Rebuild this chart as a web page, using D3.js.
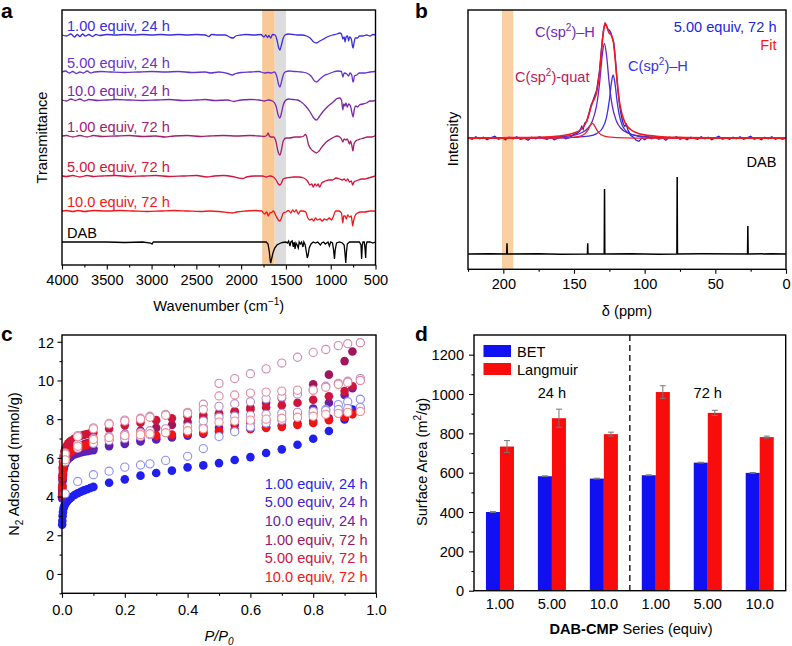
<!DOCTYPE html>
<html><head><meta charset="utf-8">
<script src="https://cdn.jsdelivr.net/npm/d3@7"></script>
<style>body{margin:0;background:#fff}svg text{font-family:"Liberation Sans",Arial,sans-serif}</style>
</head><body>
<svg id="fig" width="792" height="646"></svg>
<script>
// ================= DATA =================
// Panel a: FTIR
const irLabels = ["1.00 equiv, 24 h","5.00 equiv, 24 h","10.0 equiv, 24 h","1.00 equiv, 72 h","5.00 equiv, 72 h","10.0 equiv, 72 h","DAB"];
const irColors = ["#3a2ee0","#6634cc","#7c28a8","#a3206e","#d4143c","#f2161a","#000000"];
const irOffsets = [230, 193, 165, 129, 89, 54, 23];
const irTicks = [4000,3500,3000,2500,2000,1500,1000,500];
const irBands = [[1765,1625],[1625,1500]];
const irBandColors = ["#f9c896","#dcdcdc"];
const ir1 = [[4000,0],[3950,-1],[3900,1],[3860,-2],[3830,0.5],[3800,-1.5],[3770,1],[3740,-1],[3700,0.5],[3660,-1.5],[3620,0.5],[3580,-0.5],[3500,0.5],[3400,0],[3300,0.5],[3200,0],[3100,0.5],[3000,0],[2900,0.5],[2800,0],[2700,0.5],[2600,0],[2500,0.5],[2400,0],[2360,-1.5],[2330,0.5],[2250,0],[2180,0],[2120,-2.5],[2090,-3],[2060,-1],[2000,0],[1950,0.5],[1850,0],[1780,0.5],[1745,-2],[1725,0],[1705,-2.5],[1690,-0.5],[1670,-3],[1650,0.5],[1620,0],[1600,-5],[1580,-13],[1567,-15],[1550,-10],[1530,-3],[1510,0],[1470,1],[1420,0.5],[1380,0],[1320,0],[1270,-1],[1230,-3],[1190,-7],[1160,-8],[1120,-6],[1080,-4],[1040,-2],[980,0],[930,1],[900,2],[880,1],[865,-4],[850,-2],[840,-7],[828,-2],[812,-1],[800,-6],[790,-2],[770,-4],[755,-12],[749,-13],[740,-8],[725,-3],[700,-3],[680,-1],[640,-1],[600,0],[560,-1],[530,0.5],[500,0]];
const ir2 = [[4000,0],[3960,1],[3920,-1],[3880,0.5],[3840,-1.5],[3800,0],[3760,-1],[3720,1],[3680,-1],[3640,0],[3560,0.5],[3450,0],[3300,-0.5],[3150,0],[3000,0.5],[2850,0],[2700,0.5],[2550,-0.5],[2400,0],[2340,-1],[2250,0],[2150,-1.5],[2100,-3],[2060,-1.5],[2000,-0.5],[1900,0],[1800,0.5],[1740,-1],[1700,-0.5],[1660,-1],[1630,0],[1600,-5],[1580,-13],[1567,-15],[1550,-10],[1530,-3],[1510,0],[1460,1],[1400,0.5],[1330,0],[1270,-1],[1220,-4],[1180,-9],[1160,-10],[1120,-7],[1080,-4],[1030,-2],[970,0],[920,1],[880,0.5],[865,-5],[850,-1],[820,-2],[800,-4],[785,-1],[765,-3],[752,-10],[745,-9],[735,-4],[710,-3],[680,-1],[620,-1],[560,0],[500,0.5]];
const ir3 = [[4000,0],[3950,-1],[3900,1],[3850,-0.5],[3800,1],[3750,-1],[3700,0.5],[3600,-0.5],[3500,0],[3400,0.5],[3250,0],[3100,-0.5],[2950,0],[2800,0.5],[2650,-0.5],[2500,0],[2400,0.5],[2300,-0.5],[2150,0],[2080,-1.5],[2000,0],[1900,0.5],[1800,0],[1740,-1],[1700,0],[1650,-1],[1610,-6],[1590,-14],[1567,-18],[1550,-13],[1530,-5],[1510,-1],[1470,1],[1420,0.5],[1370,0],[1330,-2],[1280,-6],[1230,-12],[1190,-18],[1160,-20],[1130,-17],[1090,-12],[1050,-8],[1000,-4],[960,-1],[930,1.5],[900,2],[880,0],[865,-10],[855,-4],[842,-6],[830,-3],[815,-7],[800,-4],[780,-6],[760,-14],[750,-17],[738,-10],[720,-6],[700,-7],[680,-5],[640,-4],[600,-3],[560,-1],[520,-1],[500,0]];
const ir4 = [[4000,0],[3950,0.5],[3880,-1],[3800,0.5],[3720,-1],[3650,0.5],[3550,-0.5],[3400,0],[3250,0.5],[3100,-0.5],[2950,0],[2850,-1],[2750,0],[2600,0.5],[2450,-0.5],[2350,0],[2200,0.5],[2050,0],[1900,0.5],[1800,0],[1745,-0.5],[1715,0.5],[1698,3],[1685,0],[1665,-1],[1640,-1],[1610,-6],[1590,-15],[1567,-19],[1550,-14],[1530,-5],[1500,-2],[1460,-2],[1400,-1],[1340,-1],[1300,0],[1285,1.5],[1270,0],[1250,-8],[1220,-13],[1180,-16],[1160,-17],[1130,-15],[1090,-10],[1050,-6],[1000,-3],[960,-1],[930,0],[900,-1],[880,-3],[865,-6],[850,-3],[830,-4],[815,-3],[790,-8],[780,-5],[765,-9],[752,-15],[740,-8],[720,-5],[700,-4],[670,-3],[630,-2],[590,-1],[540,-1],[500,0.5]];
const ir5 = [[4000,0],[3950,-0.5],[3880,0.5],[3800,-1],[3720,0.5],[3650,-0.5],[3550,0],[3400,0.5],[3250,-0.5],[3100,0],[2950,0.5],[2800,-0.5],[2650,0],[2500,0.5],[2380,-1],[2300,0],[2200,0.5],[2100,-0.5],[2030,-2],[1980,-2.5],[1940,-1],[1850,0],[1760,0],[1720,-1],[1680,0],[1640,-1],[1610,-4],[1585,-8],[1567,-9],[1550,-7],[1530,-3],[1500,-2],[1460,-1.5],[1420,-1],[1360,-1],[1300,-2],[1260,-5],[1232,-9],[1210,-8],[1195,-11],[1175,-8],[1157,-10],[1140,-8],[1125,-11],[1100,-7],[1060,-5],[1020,-4],[980,-4],[940,-2],[900,-3],[870,-4],[850,-3],[830,-5],[810,-3],[790,-6],[770,-5],[755,-9],[740,-6],[720,-5],[690,-4],[660,-3],[620,-3],[580,-2],[540,-1],[500,0]];
const ir6 = [[4000,0],[3950,0.5],[3880,-0.5],[3820,0.5],[3750,-0.5],[3650,0.5],[3500,0],[3350,0.5],[3200,0],[3050,-0.5],[2900,0],[2750,0.5],[2600,0],[2450,-0.5],[2350,0],[2250,-0.5],[2150,-1.5],[2100,-2],[2050,-1],[1950,0],[1850,0.5],[1770,0],[1740,-3],[1715,-1],[1698,-5],[1680,-2],[1660,-1.5],[1640,0],[1610,-5],[1585,-9],[1567,-10],[1550,-7],[1530,-2],[1500,-1],[1470,0.5],[1445,-2],[1425,1],[1405,-1],[1385,1],[1362,-3],[1340,0],[1310,0],[1280,-1],[1255,-7],[1235,-9],[1210,-8],[1190,-10],[1170,-7],[1150,-9],[1120,-8],[1095,-10],[1070,-8],[1045,-9],[1015,-7],[990,-9],[965,-4],[945,0],[910,0],[880,-2],[865,-12],[855,-5],[840,-5],[825,-8],[812,-4],[790,-6],[770,-5],[755,-15],[745,-10],[725,-4],[700,-2],[670,-1],[620,-1],[560,0],[500,0]];
const irDAB = [[4000,0],[3500,0],[3300,-0.5],[3100,0],[3010,-1],[2995,-2],[2980,0],[2700,0],[2400,0],[2200,0],[1900,0],[1720,0],[1700,-2],[1685,-10],[1675,-19],[1670,-21],[1660,-17],[1645,-11],[1625,-6],[1600,-3],[1570,-1.5],[1540,-0.5],[1500,0],[1485,-1],[1470,1],[1455,-4],[1445,0],[1430,1],[1418,-5],[1408,0],[1398,-7],[1388,-1],[1375,-3],[1362,-6],[1352,0],[1340,-2],[1325,0],[1310,-5],[1300,0],[1285,-3],[1272,-10],[1262,-16],[1252,-13],[1240,-6],[1220,-2],[1195,0],[1170,-1],[1145,0],[1115,-3],[1100,-1],[1080,0],[1060,-2],[1030,0],[1015,-4],[1000,0],[980,-1],[968,-8],[958,-17],[950,-8],[935,-1],[900,0],[870,-1],[850,-3],[840,-12],[832,-21],[824,-10],[815,-2],[790,0],[720,0],[680,0],[662,-3],[655,-17],[648,-4],[640,0],[625,0],[615,-9],[610,-16],[604,-3],[595,0],[560,0],[530,-1],[500,0]];
const irTraces = [ir1, ir2, ir3, ir4, ir5, ir6, irDAB];

// Panel b: 13C NMR
const nmrTicks = [200,150,100,50,0];
const nmrBand = [201,193];
const nmrTopOffset = 131;
const nmrDabOffset = 15.3;
const nmrExp = [[225,0.5],[222,-1],[219.5,1.5],[217,-0.5],[214,1],[211.5,-1.5],[209,0.5],[206,2],[203.5,-1],[201,0.5],[198.5,-1.5],[196,1],[193,-0.5],[190.5,1.5],[188,-1],[185,0],[182.5,-2],[180,1],[177,-0.5],[174.5,1.5],[172,0],[169,-1],[166.5,1],[164,-1.5],[161,0.5],[158.5,2],[156,-0.5],[153,1],[150,4],[148,5],[146,7],[144.5,12],[143.5,9],[142.5,15],[141,17],[140,22],[139,27],[138,33],[137,36],[136,40],[134,48],[132,67],[130,98],[129,110],[128,115],[127,112],[126,109],[125,108],[124,106],[123,101],[122,97],[121,84],[120,66],[119,50],[118,36],[117,26],[116,19],[115,14],[114,12],[113,14],[112,9],[111,6],[110,3],[108,1],[106,-2],[104,-3],[102,0.5],[100,-1.5],[97.5,1],[95,-0.5],[92.5,1.5],[90,-1],[87.5,0.5],[85,-2],[82.5,1],[80,0],[77.5,1.5],[75,-1],[72.5,0.5],[70,-1.5],[67.5,1],[65,0],[62.5,-1],[60,1.5],[57.5,-0.5],[55,1],[52.5,-1.5],[50,0.5],[47.5,2],[45,-1],[42.5,0.5],[40,-1],[37.5,1],[35,-0.5],[32.5,1.5],[30,-1],[27.5,0.5],[25,2],[22.5,-1],[20,0.5],[17.5,-1.5],[15,1],[12.5,-0.5],[10,1.5],[7.5,-1],[5,0.5],[2.5,-1],[0,0.5]];
const nmrFit = [[225,0.3],[200,0.6],[175,1.1],[160,2.3],[150,5.2],[145,9],[142,14.3],[140,21],[138,31],[137,35.3],[136,38.4],[134,46],[132,65],[130,96],[129,108],[128,115],[127,113],[126,108],[125,105],[124,104],[123,101],[122,95],[121,82],[120,65],[119,50],[118,38],[116,24],[114,16],[112,11.5],[110,8.8],[105,5.1],[100,3.4],[90,1.8],[75,0.9],[50,0.4],[25,0.2],[0,0.15]];
const nmrCH1 = [[225,0.16],[175,0.7],[160,1.5],[150,3.2],[145,5.3],[140,10.3],[137,17.3],[134,32.9],[132,53.8],[130,83.3],[128.5,95],[127,83.3],[125,53.8],[123,32.9],[120,17.3],[117,10.3],[112,5.3],[107,3.2],[97,1.5],[82,0.7],[50,0.25],[0,0.09]];
const nmrCH2 = [[225,0.07],[175,0.25],[160,0.48],[150,0.89],[140,2.1],[134,4.7],[130,9.8],[127,20.9],[125,37.9],[123.5,55.9],[122.3,63.3],[121,54.8],[119.5,36.8],[118,23.5],[116,13.6],[113,7.1],[110,4.3],[105,2.2],[95,0.9],[80,0.4],[50,0.13],[0,0.05]];
const nmrQuat = [[225,0.02],[175,0.13],[160,0.35],[150,1.1],[145,2.4],[142,4.9],[140,8.7],[138.5,12.7],[137,15],[135.5,12.7],[134,8.7],[132,4.9],[129,2.4],[124,1.1],[114,0.35],[99,0.13],[50,0.02],[0,0.01]];
const nmrDAB = [[225,0],[210,0.3],[197.6,0],[197.4,10.7],[197.2,0],[175,0.3],[160,-0.2],[140.5,0],[140.3,10.7],[140.1,0],[128.6,0],[128.4,65],[128.2,0],[110,0.3],[90,-0.2],[77.2,0],[77,77],[76.8,0],[60,0.2],[27.2,0],[27,28],[26.8,0],[10,0.2],[0,0]];

// Panel c: N2 isotherms
const isoLabels = ["1.00 equiv, 24 h","5.00 equiv, 24 h","10.0 equiv, 24 h","1.00 equiv, 72 h","5.00 equiv, 72 h","10.0 equiv, 72 h"];
const isoColors = ["#1f1ff0","#4a22cc","#6a1ea8","#a0165c","#d0143a","#f21414"];
const adsP = [0.0005,0.001,0.002,0.003,0.005,0.007,0.01,0.015,0.02,0.025,0.03,0.04,0.05,0.06,0.07,0.08,0.09,0.1,0.15,0.2,0.25,0.3,0.35,0.4,0.45,0.5,0.55,0.6,0.65,0.7,0.75,0.8,0.85,0.9,0.925,0.95];
const desP = [0.95,0.91,0.88,0.84,0.8,0.75,0.7,0.65,0.6,0.55,0.5,0.45,0.4,0.33,0.28,0.25,0.2,0.15,0.1,0.05,0.01];
const ads1 = [2.55,2.75,3.0,3.2,3.4,3.5,3.6,3.72,3.82,3.9,3.97,4.08,4.17,4.25,4.32,4.38,4.44,4.5,4.71,4.89,5.08,5.22,5.34,5.51,5.61,5.73,5.89,6.04,6.25,6.44,6.68,6.99,7.39,7.98,8.5,9.03];
const ads2 = [3.9,4.3,4.8,5.1,5.4,5.55,5.7,5.85,5.95,6.02,6.08,6.17,6.23,6.28,6.32,6.35,6.38,6.4,6.6,6.72,6.85,6.95,7.05,7.15,7.25,7.35,7.42,7.5,7.58,7.68,7.78,7.9,8.05,8.25,8.4,8.6];
const ads3 = [4.0,4.4,4.9,5.2,5.5,5.65,5.8,5.95,6.05,6.12,6.18,6.27,6.33,6.38,6.42,6.45,6.48,6.5,6.68,6.8,6.92,7.02,7.12,7.25,7.4,7.55,7.7,7.82,7.95,8.12,8.32,8.55,8.85,9.25,9.6,10.1];
const ads4 = [4.2,4.6,5.1,5.4,5.7,5.85,6.0,6.15,6.25,6.33,6.4,6.5,6.58,6.65,6.7,6.75,6.8,6.85,7.1,7.25,7.4,7.55,7.7,7.85,8.05,8.22,8.4,8.6,8.85,9.08,9.36,9.8,10.3,11.0,11.5,11.95];
const ads5 = [4.5,5.0,5.5,5.8,6.1,6.3,6.45,6.62,6.75,6.83,6.9,7.0,7.08,7.14,7.19,7.23,7.27,7.3,7.5,7.68,7.82,7.95,8.05,8.15,8.22,8.3,8.4,8.5,8.6,8.72,8.85,9.0,9.18,9.45,9.7,10.0];
const ads6 = [4.1,4.5,5.0,5.3,5.6,5.8,5.95,6.1,6.2,6.28,6.34,6.44,6.52,6.58,6.63,6.68,6.72,6.76,6.95,7.05,7.1,7.15,7.2,7.25,7.3,7.4,7.45,7.5,7.55,7.6,7.7,7.8,7.95,8.1,8.25,8.4];
const des1 = [9.03,8.9,8.75,8.5,8.3,8.1,7.95,7.8,7.6,7.35,7.1,6.48,6.08,5.87,5.69,5.63,5.52,5.31,5.13,4.78,4.15];
const des2 = [8.6,8.55,8.5,8.45,8.4,8.35,8.3,8.25,8.2,8.15,8.1,7.6,7.4,7.3,7.2,7.1,7.0,6.9,6.75,6.5,5.8];
const des3 = [10.1,9.96,9.85,9.7,9.5,9.3,9.15,9.05,8.9,8.8,8.66,7.9,7.6,7.5,7.4,7.3,7.2,7.1,7.0,6.7,6.0];
const des4 = [11.95,11.9,11.8,11.6,11.45,11.2,10.9,10.6,10.35,10.1,9.85,8.77,8.35,8.25,8.15,8.05,7.95,7.78,7.55,7.15,6.25];
const des5 = [10.0,9.9,9.8,9.65,9.5,9.5,9.45,9.4,9.35,9.25,9.2,8.5,8.3,8.2,8.1,8.0,7.9,7.75,7.5,7.1,6.2];
const des6 = [8.4,8.35,8.3,8.25,8.15,8.1,8.05,8.0,7.95,7.9,7.85,7.5,7.4,7.3,7.25,7.2,7.15,7.05,6.95,6.6,5.9];
const adsAll = [ads1,ads2,ads3,ads4,ads5,ads6];
const desAll = [des1,des2,des3,des4,des5,des6];
const isoXTicks = [0,0.2,0.4,0.6,0.8,1.0];
const isoYTicks = [0,2,4,6,8,10,12];

// Panel d: surface areas
const saCats = ["1.00","5.00","10.0","1.00","5.00","10.0"];
const saSeries = ["BET","Langmuir"];
const saColors = ["#1010f2","#f80c0c"];
const betVals = [400,582,570,587,651,599];
const betErr = [2,2,2,2,2,2];
const langVals = [733,877,796,1010,904,781];
const langErr = [30,46,10,32,13,5];
const saTimes = ["24 h","72 h"];
const saYTicks = [0,200,400,600,800,1000,1200];

// ================= DRAW =================
const svg = d3.select("#fig");
const FS = 14.6;

function box(g,x0,y0,x1,y1){
  g.append("rect").attr("x",x0).attr("y",y0).attr("width",x1-x0).attr("height",y1-y0)
   .attr("fill","none").attr("stroke","#000").attr("stroke-width",1.4);
}
function styleAxis(g, labelY, horiz){
  g.select(".domain").remove();
  g.selectAll("line").attr("stroke","#000").attr("stroke-width",1.1);
  g.selectAll("text").attr("font-size",FS).attr("fill","#000")
   .attr("font-family",'"Liberation Sans",Arial,sans-serif');
  if(horiz) g.selectAll("text").attr("y",labelY).attr("dy",null);
  else g.selectAll("text").attr("x",labelY).attr("dy","0.36em");
}
function letter(x,y,t){
  svg.append("text").attr("x",x).attr("y",y).attr("font-size",21).attr("font-weight","bold").text(t);
}

// ---------- Panel a ----------
{
  const x = d3.scaleLinear().domain([4000,500]).range([62,375.5]);
  const y = d3.scaleLinear().domain([0,255]).range([265,10]);
  const g = svg.append("g");
  irBands.forEach((b,i)=>{
    g.append("rect").attr("x",x(b[0])).attr("width",x(b[1])-x(b[0]))
     .attr("y",y(255)).attr("height",y(0)-y(255)).attr("fill",irBandColors[i]);
  });
  irTraces.forEach((tr,i)=>{
    const line = d3.line().x(d=>x(d[0])).y(d=>y(irOffsets[i]+d[1])).curve(i===6?d3.curveLinear:d3.curveMonotoneX);
    g.append("path").attr("d",line(tr)).attr("fill","none").attr("stroke",irColors[i]).attr("stroke-width",1.3);
    g.append("text").attr("x",67).attr("y",y(irOffsets[i])-4.5).attr("font-size",FS).attr("fill",irColors[i]).text(irLabels[i]);
  });
  const minor = d3.range(4000,499,-250).filter(v=>v%500!==0);
  g.append("g").attr("transform","translate(0,265)").call(d3.axisBottom(x).tickValues(minor).tickSize(2.5).tickFormat("")).call(a=>styleAxis(a,0,true));
  g.append("g").attr("transform","translate(0,265)").call(d3.axisBottom(x).tickValues(irTicks).tickSize(4.5).tickFormat(d3.format("d"))).call(a=>styleAxis(a,19.5,true));
  box(g,62,10,375.5,265);
  const t = g.append("text").attr("x",(62+375.5)/2).attr("y",311).attr("text-anchor","middle").attr("font-size",FS);
  t.append("tspan").text("Wavenumber (cm");
  t.append("tspan").attr("dy",-6).attr("font-size",10).text("\u22121");
  t.append("tspan").attr("dy",6).text(")");
  g.append("text").attr("transform","translate(47,137.5) rotate(-90)").attr("text-anchor","middle").attr("font-size",FS).text("Transmittance");
  letter(1,18,"a");
}

// ---------- Panel b ----------
{
  const x = d3.scaleLinear().domain([225,0]).range([468,786]);
  const y = d3.scaleLinear().domain([0,259.3]).range([269.3,10]);
  const g = svg.append("g");
  g.append("rect").attr("x",x(nmrBand[0])).attr("width",x(nmrBand[1])-x(nmrBand[0]))
   .attr("y",y(259.3)).attr("height",y(0)-y(259.3)).attr("fill","#f9c790").attr("opacity",0.85);
  const mk = (off,curve)=>d3.line().x(d=>x(d[0])).y(d=>y(off+d[1])).curve(curve);
  g.append("path").attr("d",mk(nmrDabOffset,d3.curveLinear)(nmrDAB)).attr("fill","none").attr("stroke","#000").attr("stroke-width",1.5);
  g.append("path").attr("d",mk(nmrTopOffset,d3.curveLinear)(nmrExp)).attr("fill","none").attr("stroke","#2222e0").attr("stroke-width",1.3);
  g.append("path").attr("d",mk(nmrTopOffset,d3.curveMonotoneX)(nmrCH1)).attr("fill","none").attr("stroke","#6a22c4").attr("stroke-width",1.3);
  g.append("path").attr("d",mk(nmrTopOffset,d3.curveMonotoneX)(nmrCH2)).attr("fill","none").attr("stroke","#3a30e0").attr("stroke-width",1.3);
  g.append("path").attr("d",mk(nmrTopOffset,d3.curveMonotoneX)(nmrQuat)).attr("fill","none").attr("stroke","#ee2030").attr("stroke-width",1.3);
  g.append("path").attr("d",mk(nmrTopOffset,d3.curveMonotoneX)(nmrFit)).attr("fill","none").attr("stroke","#f21a1a").attr("stroke-width",1.6);
  const minor = [225,175,125,75,25];
  g.append("g").attr("transform","translate(0,269.3)").call(d3.axisBottom(x).tickValues(minor).tickSize(2.5).tickFormat("")).call(a=>styleAxis(a,0,true));
  g.append("g").attr("transform","translate(0,269.3)").call(d3.axisBottom(x).tickValues(nmrTicks).tickSize(4.5).tickFormat(d3.format("d"))).call(a=>styleAxis(a,19.5,true));
  box(g,468,10,786,269.3);
  g.append("text").attr("x",627).attr("y",316).attr("text-anchor","middle").attr("font-size",FS).text("\u03b4 (ppm)");
  g.append("text").attr("transform","translate(458,139) rotate(-90)").attr("text-anchor","middle").attr("font-size",FS).text("Intensity");
  g.append("text").attr("x",776.5).attr("y",32).attr("text-anchor","end").attr("font-size",FS).attr("fill","#2424e0").text("5.00 equiv, 72 h");
  g.append("text").attr("x",776.5).attr("y",50).attr("text-anchor","end").attr("font-size",FS).attr("fill","#f21a1a").text("Fit");
  g.append("text").attr("x",776.5).attr("y",167).attr("text-anchor","end").attr("font-size",FS).attr("fill","#000").text("DAB");
  function lab(xx,yy,col,tail){
    const t = g.append("text").attr("x",xx).attr("y",yy).attr("font-size",FS).attr("fill",col);
    t.append("tspan").text("C(sp");
    t.append("tspan").attr("dy",-6).attr("font-size",10).text("2");
    t.append("tspan").attr("dy",6).text(tail);
  }
  lab(535,37,"#7028c0",")\u2013H");
  lab(515,82,"#c01858",")-quat");
  lab(628,71,"#3434e0",")\u2013H");
  letter(415,18,"b");
}

// ---------- Panel c ----------
{
  const x = d3.scaleLinear().domain([0,1]).range([62,376]);
  const y = d3.scaleLinear().domain([-1,12.35]).range([593.3,335]);
  const g = svg.append("g");
  adsAll.forEach((arr,i)=>{
    g.append("g").selectAll("circle").data(arr.map((v,k)=>[adsP[k],v])).join("circle")
     .attr("cx",d=>x(d[0])).attr("cy",d=>y(d[1])).attr("r",4.3).attr("fill",isoColors[i]);
  });
  desAll.forEach((arr,i)=>{
    const c = d3.interpolateRgb(isoColors[i],"#ffffff")(0.5);
    g.append("g").selectAll("circle").data(arr.map((v,k)=>[desP[k],v])).join("circle")
     .attr("cx",d=>x(d[0])).attr("cy",d=>y(d[1])).attr("r",4.1).attr("fill","#fff").attr("stroke",c).attr("stroke-width",1.1);
  });
  g.append("g").attr("transform","translate(0,593.3)").call(d3.axisBottom(x).tickValues([0.1,0.3,0.5,0.7,0.9]).tickSize(2.5).tickFormat("")).call(a=>styleAxis(a,0,true));
  g.append("g").attr("transform","translate(0,593.3)").call(d3.axisBottom(x).tickValues(isoXTicks).tickSize(4.5).tickFormat(d3.format(".1f"))).call(a=>styleAxis(a,22,true));
  g.append("g").attr("transform","translate(62,0)").call(d3.axisLeft(y).tickValues([-1,1,3,5,7,9,11]).tickSize(2.5).tickFormat("")).call(a=>styleAxis(a,0,false));
  g.append("g").attr("transform","translate(62,0)").call(d3.axisLeft(y).tickValues(isoYTicks).tickSize(4.5).tickFormat(d3.format("d"))).call(a=>styleAxis(a,-8,false));
  box(g,62,335,376,593.3);
  isoLabels.forEach((l,i)=>{
    g.append("text").attr("x",367.5).attr("y",488.5+i*18.7).attr("text-anchor","end").attr("font-size",FS).attr("fill",isoColors[i]).text(l);
  });
  const t = g.append("text").attr("x",219).attr("y",641).attr("text-anchor","middle").attr("font-size",FS).attr("font-style","italic");
  t.append("tspan").text("P/P");
  t.append("tspan").attr("dy",4).attr("font-size",10).text("0");
  const ty = g.append("text").attr("transform","translate(19,464) rotate(-90)").attr("text-anchor","middle").attr("font-size",FS);
  ty.append("tspan").text("N");
  ty.append("tspan").attr("dy",4).attr("font-size",10).text("2");
  ty.append("tspan").attr("dy",-4).text(" Adsorbed (mmol/g)");
  letter(1,341,"c");
}

// ---------- Panel d ----------
{
  const idx = d3.range(saCats.length);
  const x0 = d3.scaleBand().domain(idx).range([474,785.7]).paddingInner(0.46).paddingOuter(0.23);
  const x1 = d3.scaleBand().domain(saSeries).range([0,x0.bandwidth()]);
  const y = d3.scaleLinear().domain([0,1300]).range([590.7,335]);
  const g = svg.append("g");
  const vals = [betVals, langVals], errs = [betErr, langErr];
  saSeries.forEach((s,si)=>{
    g.append("g").selectAll("rect").data(idx).join("rect")
     .attr("x",i=>x0(i)+x1(s)).attr("width",x1.bandwidth())
     .attr("y",i=>y(vals[si][i])).attr("height",i=>y(0)-y(vals[si][i])).attr("fill",saColors[si]);
    idx.forEach(i=>{
      const cx = x0(i)+x1(s)+x1.bandwidth()/2;
      const top = y(vals[si][i]+errs[si][i]), bot = y(vals[si][i]-errs[si][i]);
      g.append("line").attr("x1",cx).attr("x2",cx).attr("y1",top).attr("y2",bot).attr("stroke","#777").attr("stroke-width",1);
      g.append("line").attr("x1",cx-3).attr("x2",cx+3).attr("y1",top).attr("y2",top).attr("stroke","#777").attr("stroke-width",1);
      g.append("line").attr("x1",cx-3).attr("x2",cx+3).attr("y1",bot).attr("y2",bot).attr("stroke","#777").attr("stroke-width",1);
    });
  });
  const divX = (x0(2)+x0.bandwidth()+x0(3))/2;
  g.append("line").attr("x1",divX).attr("x2",divX).attr("y1",335).attr("y2",590.7).attr("stroke","#000").attr("stroke-width",1.3).attr("stroke-dasharray","6,4");
  g.append("g").attr("transform","translate(474,0)").call(d3.axisLeft(y).tickValues([100,300,500,700,900,1100]).tickSize(2.5).tickFormat("")).call(a=>styleAxis(a,0,false));
  g.append("g").attr("transform","translate(474,0)").call(d3.axisLeft(y).tickValues(saYTicks).tickSize(5).tickFormat(d3.format("d"))).call(a=>styleAxis(a,-10,false));
  idx.forEach(i=>{
    g.append("text").attr("x",x0(i)+x0.bandwidth()/2).attr("y",608.5).attr("text-anchor","middle").attr("font-size",FS).text(saCats[i]);
  });
  box(g,474,335,785.7,590.7);
  saSeries.forEach((s,i)=>{
    g.append("rect").attr("x",483.5).attr("y",345+i*18).attr("width",27.5).attr("height",12).attr("fill",saColors[i]);
    g.append("text").attr("x",517).attr("y",356.5+i*18).attr("font-size",FS).text(s);
  });
  g.append("text").attr("x",x0(1)+x0.bandwidth()/2).attr("y",398).attr("text-anchor","middle").attr("font-size",FS).text(saTimes[0]);
  g.append("text").attr("x",x0(4)+x0.bandwidth()/2).attr("y",398).attr("text-anchor","middle").attr("font-size",FS).text(saTimes[1]);
  const t = g.append("text").attr("x",631).attr("y",633.5).attr("text-anchor","middle").attr("font-size",FS);
  t.append("tspan").attr("font-weight","bold").text("DAB-CMP");
  t.append("tspan").text(" Series (equiv)");
  const ty = g.append("text").attr("transform","translate(427,462) rotate(-90)").attr("text-anchor","middle").attr("font-size",FS);
  ty.append("tspan").text("Surface Area (m");
  ty.append("tspan").attr("dy",-6).attr("font-size",10).text("2");
  ty.append("tspan").attr("dy",6).text("/g)");
  letter(415,341,"d");
}
</script>
</body></html>
